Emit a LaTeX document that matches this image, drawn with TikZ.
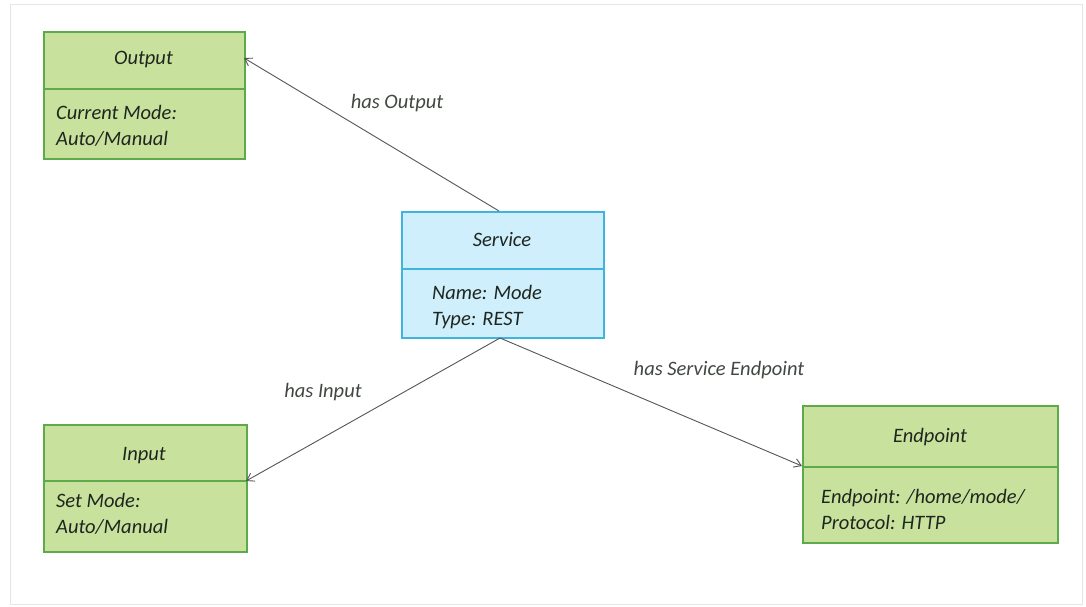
\documentclass[tikz,border=0pt]{standalone}
\usepackage{fontspec}
\setmainfont{Carlito}
\usetikzlibrary{arrows.meta}
\definecolor{gfill}{HTML}{C8E29E}
\definecolor{gline}{HTML}{5DAA4A}
\definecolor{bfill}{HTML}{CEEFFB}
\definecolor{bline}{HTML}{40B4DD}
\definecolor{txt}{HTML}{1F261F}
\definecolor{conn}{HTML}{555555}
\tikzset{
  classbox/.style={draw=gline, fill=gfill, line width=1.6pt, anchor=north west, inner sep=0pt},
  svcbox/.style={draw=bline, fill=bfill, line width=1.6pt, anchor=north west, inner sep=0pt},
  title/.style={font=\fontsize{20.5}{24}\selectfont\itshape, text=txt, inner sep=0pt},
  body/.style={font=\fontsize{20.5}{26}\selectfont\itshape, text=txt, inner sep=0pt, anchor=north west, align=left},
  lbl/.style={font=\fontsize{20.5}{24}\selectfont\itshape, text=txt!85, inner sep=0pt},
  conn/.style={draw=conn, line width=0.9pt, -{Straight Barb[length=7pt,width=9pt]}},
}
\begin{document}
\begin{tikzpicture}[x=1pt,y=-1pt]
\useasboundingbox (0,0) rectangle (1086,607);
\draw[black!10, line width=1pt] (10,5) rectangle (1082,604);
% Output
\node[classbox, minimum width=201pt, minimum height=127pt] (out) at (43,31) {};
\draw[gline, line width=1.6pt] (43,89) -- (244,89);
\node[title] (outT) at (143.5,60) {Output};
\node[body] (outB) at (56,105) {Current Mode:\\Auto/Manual};
% Service
\node[svcbox, minimum width=202pt, minimum height=126pt] (svc) at (401,211) {};
\draw[bline, line width=1.6pt] (401,269) -- (603,269);
\node[title] (svcT) at (502,240) {Service};
\node[body] (svcB) at (432,285) {Name: Mode\\Type: REST};
% Input
\node[classbox, minimum width=203pt, minimum height=127pt] (inp) at (43,424) {};
\draw[gline, line width=1.6pt] (43,481) -- (246,481);
\node[title] (inpT) at (144,456) {Input};
\node[body] (inpB) at (56,493) {Set Mode:\\Auto/Manual};
% Endpoint
\node[classbox, minimum width=255pt, minimum height=137pt] (ep) at (802,405) {};
\draw[gline, line width=1.6pt] (802,467) -- (1057,467);
\node[title] (epT) at (930,437) {Endpoint};
\node[body] (epB) at (821,489) {Endpoint: /home/mode/\\Protocol: HTTP};
% connectors
\coordinate (svcTop) at (499,211);
\coordinate (svcBot) at (500,338);
\coordinate (outTip) at (244,58);
\coordinate (inpTip) at (246,481);
\coordinate (epTip) at (802,466);
\draw[conn] (svcTop) -- (outTip);
\draw[conn] (svcBot) -- (inpTip);
\draw[conn] (svcBot) -- (epTip);
\node[lbl] (l1) at (397,103) {has Output};
\node[lbl] (l2) at (323,392) {has Input};
\node[lbl] (l3) at (719,370) {has Service Endpoint};
\end{tikzpicture}
\end{document}
